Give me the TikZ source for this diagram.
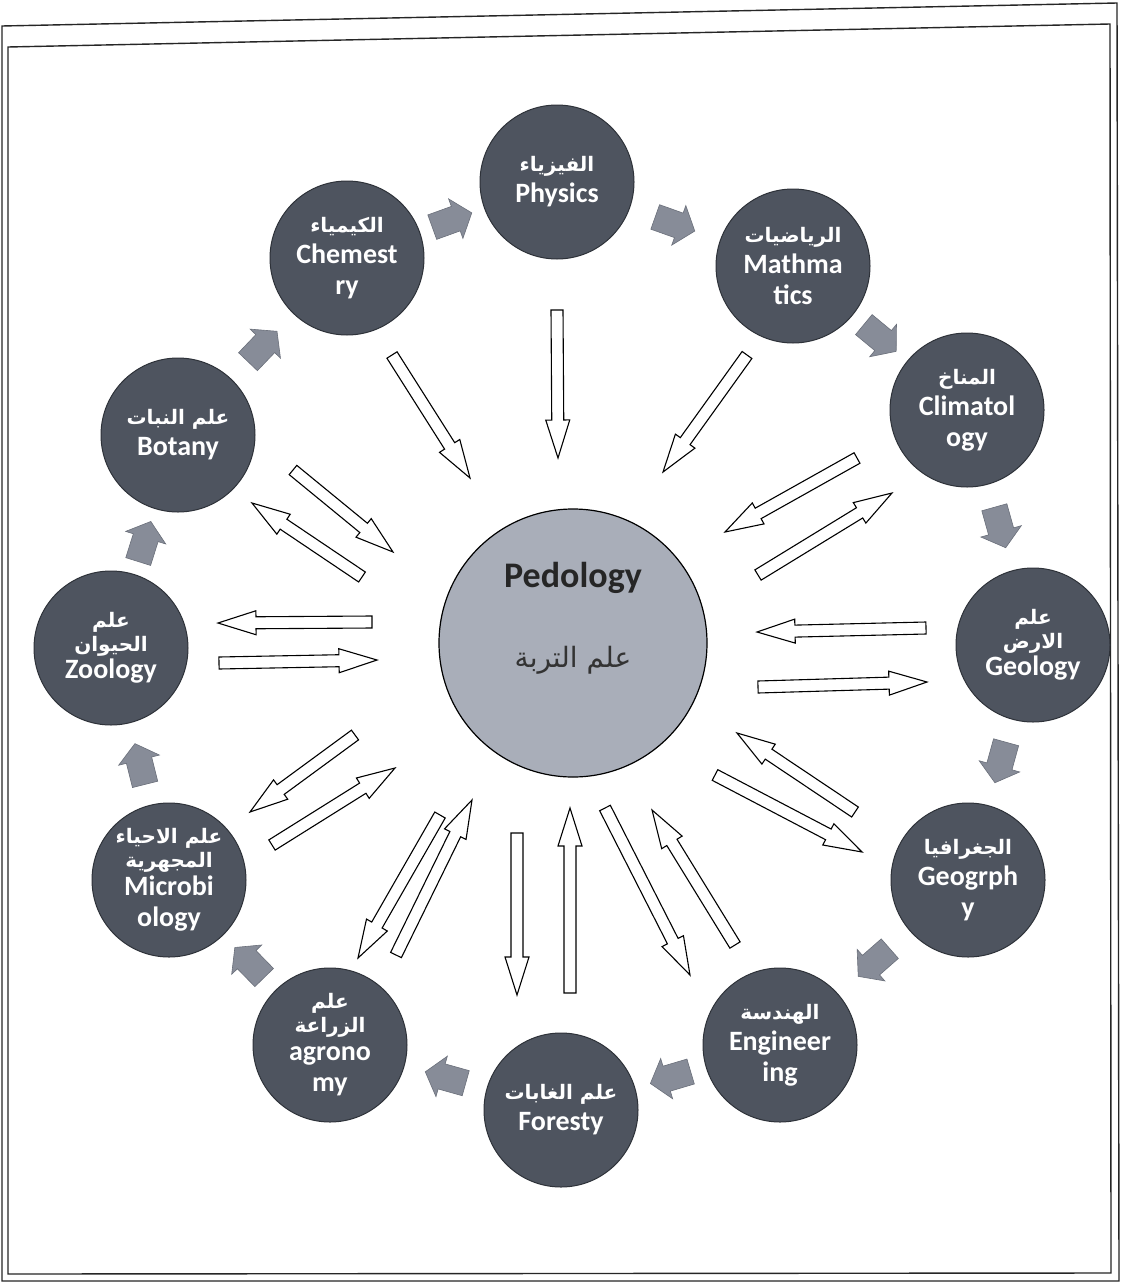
\documentclass[tikz,border=0pt]{standalone}
\usepackage{fontspec}
\setmainfont{Carlito}
\newfontfamily\enfont{Carlito Bold}
\newfontfamily\arfont[Script=Arabic]{DejaVu Sans}
\newfontfamily\arbold[Script=Arabic]{DejaVu Sans Bold}
\TeXXeTstate=1
\usetikzlibrary{calc}
\definecolor{nodefill}{HTML}{4E545F}
\definecolor{nodeline}{HTML}{2E3239}
\definecolor{pedfill}{HTML}{A9AEB9}
\definecolor{garrfill}{HTML}{878C98}
\definecolor{garrline}{HTML}{6A6F7A}
% block arrow: #1 style, #2 tail, #3 tip, #4 shaft half width, #5 head half width, #6 head length
\newcommand\blkarrow[6]{%
  \coordinate (blk-p) at ($(#3)!#6!(#2)$);
  \draw[#1] ($(#2)!#4!90:(#3)$) -- ($(blk-p)!#4!90:(#3)$) -- ($(blk-p)!#5!90:(#3)$) -- (#3)
    -- ($(blk-p)!#5!-90:(#3)$) -- ($(blk-p)!#4!-90:(#3)$) -- ($(#2)!#4!-90:(#3)$) -- cycle;}
\newcommand\grayarrow[2]{%
  \coordinate (#1-#2-m) at ($(#1)!0.5!(#2)$);
  \coordinate (#1-#2-t) at ($(#1-#2-m)!21pt!(#1)$);
  \coordinate (#1-#2-h) at ($(#1-#2-m)!21pt!(#2)$);
  \blkarrow{gArr}{#1-#2-t}{#1-#2-h}{13pt}{21pt}{17pt}}
\newcommand\hollow[2]{\blkarrow{hArr}{#1}{#2}{6pt}{12pt}{38pt}}
\newcommand\artxt[1]{{\arbold\fontsize{20}{31}\selectfont\beginR #1\endR}}
\newcommand\entxt[1]{{\enfont\fontsize{28}{31}\selectfont #1}}
\begin{document}
\begin{tikzpicture}[x=1pt,y=-1pt,
  outer/.style={circle, fill=nodefill, draw=nodeline, line width=1pt, minimum size=154pt, inner sep=0pt},
  lbl/.style={text=white, align=center, inner sep=0pt, font=\enfont\fontsize{28}{31}\selectfont},
  hArr/.style={draw=black, fill=white, line width=1.1pt, line join=miter},
  gArr/.style={fill=garrfill, draw=garrline, line width=0.6pt, line join=miter},
  frameline/.style={draw=black!85, line width=1.4pt}]
\useasboundingbox (0,0) rectangle (1122,1282);
\fill[white] (0,0) rectangle (1122,1282);
% frame
\draw[frameline] (2,26) -- (1117,3) -- (1119,1281) -- (2,1281) -- cycle;
\draw[frameline] (8,47) -- (1110,24) -- (1111,1273) -- (8,1274) -- cycle;

% centre
\node[circle, fill=pedfill, draw=black, line width=1.2pt, minimum size=268pt, inner sep=0pt] (ped) at (573,643) {};
\node[font=\enfont\fontsize{36}{40}\selectfont, text=black!85, inner sep=0pt] (pedEn) at (573,578) {Pedology};
\node[text=black!80, inner sep=0pt] (pedAr) at (573,660) {\arfont\fontsize{28}{34}\selectfont\beginR علم التربة\endR};

% outer circles
\node[outer] (phys) at (557,182) {};
\node[outer] (chem) at (347,258) {};
\node[outer] (math) at (793,266) {};
\node[outer] (clim) at (967,410) {};
\node[outer] (geo)  at (1033,645) {};
\node[outer] (geog) at (968,880) {};
\node[outer] (eng)  at (780,1045) {};
\node[outer] (for)  at (561,1110) {};
\node[outer] (agr)  at (330,1045) {};
\node[outer] (mic)  at (169,880) {};
\node[outer] (zoo)  at (111,648) {};
\node[outer] (bot)  at (178,435) {};

% labels
\node[lbl] (physL) at (phys) {\artxt{الفيزياء}\\\entxt{Physics}};
\node[lbl] (chemL) at (chem) {\artxt{الكيمياء}\\\entxt{Chemest}\\\entxt{ry}};
\node[lbl] (mathL) at (math) {\artxt{الرياضيات}\\\entxt{Mathma}\\\entxt{tics}};
\node[lbl] (climL) at (clim) {\artxt{المناخ}\\\entxt{Climatol}\\\entxt{ogy}};
\node[lbl] (geoL)  at (geo)  {\artxt{علم}\\[-7pt]\artxt{الارض}\\[-4pt]\entxt{Geology}};
\node[lbl] (geogL) at (geog) {\artxt{الجغرافيا}\\\entxt{Geogrph}\\\entxt{y}};
\node[lbl] (engL)  at (eng)  {\artxt{الهندسة}\\\entxt{Engineer}\\\entxt{ing}};
\node[lbl] (forL)  at (for)  {\artxt{علم الغابات}\\\entxt{Foresty}};
\node[lbl] (agrL)  at (agr)  {\artxt{علم}\\[-7pt]\artxt{الزراعة}\\[-3pt]\entxt{agrono}\\\entxt{my}};
\node[lbl] (micL)  at (mic)  {\artxt{علم الاحياء}\\[-7pt]\artxt{المجهرية}\\[-3pt]\entxt{Microbi}\\\entxt{ology}};
\node[lbl] (zooL)  at (zoo)  {\artxt{علم}\\[-7pt]\artxt{الحيوان}\\[-4pt]\entxt{Zoology}};
\node[lbl] (botL)  at (bot)  {\artxt{علم النبات}\\\entxt{Botany}};

% gray cycle arrows
\grayarrow{chem}{phys}
\grayarrow{phys}{math}
\grayarrow{math}{clim}
\grayarrow{clim}{geo}
\grayarrow{geo}{geog}
\grayarrow{geog}{eng}
\grayarrow{eng}{for}
\grayarrow{for}{agr}
\grayarrow{agr}{mic}
\grayarrow{mic}{zoo}
\grayarrow{zoo}{bot}
\grayarrow{bot}{chem}

% hollow arrow end points
\coordinate (chemT) at (392,355);  \coordinate (chemH) at (470,478);
\coordinate (physT) at (557,310);  \coordinate (physH) at (558,458);
\coordinate (mathT) at (747,355);  \coordinate (mathH) at (663,472);
\coordinate (climInT) at (857,458); \coordinate (climInH) at (725,532);
\coordinate (climOutT) at (758,575); \coordinate (climOutH) at (892,493);
\coordinate (geoInT) at (926,628); \coordinate (geoInH) at (757,632);
\coordinate (geoOutT) at (758,687); \coordinate (geoOutH) at (927,682);
\coordinate (geogOutT) at (715,775); \coordinate (geogOutH) at (862,852);
\coordinate (geogInT) at (855,812); \coordinate (geogInH) at (737,733);
\coordinate (engOutT) at (605,808); \coordinate (engOutH) at (690,975);
\coordinate (engInT) at (735,945); \coordinate (engInH) at (652,810);
\coordinate (forOutT) at (517,833); \coordinate (forOutH) at (517,995);
\coordinate (forInT) at (570,993); \coordinate (forInH) at (570,808);
\coordinate (agrOutT) at (440,815); \coordinate (agrOutH) at (358,958);
\coordinate (agrInT) at (396,955); \coordinate (agrInH) at (472,800);
\coordinate (micOutT) at (355,735); \coordinate (micOutH) at (250,812);
\coordinate (micInT) at (272,845); \coordinate (micInH) at (395,768);
\coordinate (zooOutT) at (372,622); \coordinate (zooOutH) at (218,623);
\coordinate (zooInT) at (219,663); \coordinate (zooInH) at (377,660);
\coordinate (botInT) at (293,470); \coordinate (botInH) at (393,552);
\coordinate (botOutT) at (362,577); \coordinate (botOutH) at (252,503);

\hollow{chemT}{chemH}
\hollow{physT}{physH}
\hollow{mathT}{mathH}
\hollow{climInT}{climInH}
\hollow{climOutT}{climOutH}
\hollow{geoInT}{geoInH}
\hollow{geoOutT}{geoOutH}
\hollow{geogOutT}{geogOutH}
\hollow{geogInT}{geogInH}
\hollow{engOutT}{engOutH}
\hollow{engInT}{engInH}
\hollow{forOutT}{forOutH}
\hollow{forInT}{forInH}
\hollow{agrOutT}{agrOutH}
\hollow{agrInT}{agrInH}
\hollow{micOutT}{micOutH}
\hollow{micInT}{micInH}
\hollow{zooOutT}{zooOutH}
\hollow{zooInT}{zooInH}
\hollow{botInT}{botInH}
\hollow{botOutT}{botOutH}
\end{tikzpicture}
\end{document}
